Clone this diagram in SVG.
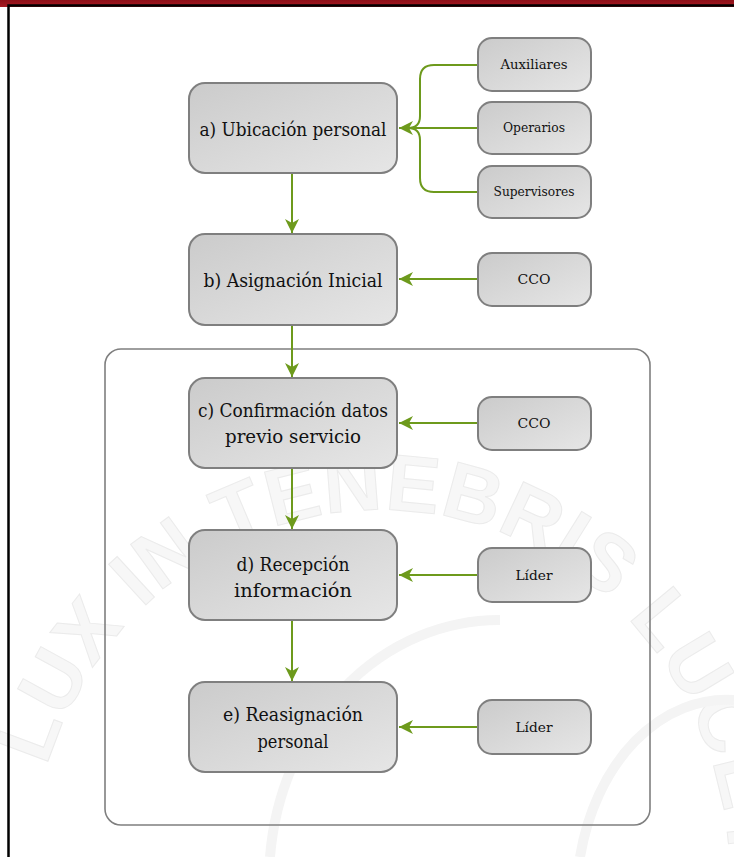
<svg xmlns="http://www.w3.org/2000/svg" width="734" height="857" viewBox="0 0 734 857">
  <defs>
    <linearGradient id="boxFill" x1="0" y1="0" x2="1" y2="1">
      <stop offset="0" stop-color="#cbcbcb"/>
      <stop offset="1" stop-color="#e6e6e6"/>
    </linearGradient>
    <linearGradient id="topBar" x1="0" y1="0" x2="0" y2="1">
      <stop offset="0" stop-color="#8e1018"/>
      <stop offset="1" stop-color="#a61a22"/>
    </linearGradient>
    <marker id="arrow" markerUnits="userSpaceOnUse" markerWidth="16" markerHeight="14" refX="14" refY="7" orient="auto">
      <path d="M0,0 L14,7 L0,14 L4,7 z" fill="#6d9a1c"/>
    </marker>
    <path id="sealArc" d="M 30 880 A 350 370 0 0 1 730 880 A 350 370 0 0 1 30 880"/>
    <style>
      .node rect { fill: url(#boxFill); stroke: #7f7f7f; stroke-width: 2; }
      .main { font-family: "DejaVu Serif", serif; font-size: 19px; fill: #111; text-anchor: middle; }
      .side { font-family: "DejaVu Serif", serif; font-size: 13px; fill: #111; text-anchor: middle; }
      .link { fill: none; stroke: #6d9a1c; stroke-width: 2; }
      .seal { font-family: "Liberation Sans", sans-serif; font-weight: bold; font-size: 80px; fill: #f7f7f7; stroke: #ebebeb; stroke-width: 1; letter-spacing: 1px; }
    </style>
  </defs>

  <rect x="0" y="0" width="734" height="857" fill="#ffffff"/>

  <!-- background seal -->
  <g id="seal">
    <text class="seal"><textPath href="#sealArc" startOffset="115">LUX IN TENEBRIS LUCET</textPath></text>
    <path d="M 270 857 A 230 260 0 0 1 500 620" fill="none" stroke="#f4f4f4" stroke-width="10"/>
    <path d="M 580 857 A 150 200 0 0 1 734 700" fill="none" stroke="#f4f4f4" stroke-width="10"/>
  </g>

  <!-- page frame -->
  <rect x="0" y="0" width="734" height="7" fill="url(#topBar)"/>
  <path d="M8.5,857 V5.5 H734" fill="none" stroke="#000" stroke-width="2.5"/>

  <!-- container -->
  <rect id="group-box" x="105" y="349" width="545" height="476" rx="16" ry="16" fill="none" stroke="#7f7f7f" stroke-width="1.6"/>

  <!-- connectors -->
  <g id="connectors">
    <path class="link" d="M477,65 H434 Q420,65 420,79 V116 Q420,128 408,128 H401"/>
    <path class="link" d="M477,192 H434 Q420,192 420,178 V140 Q420,128 408,128 H401"/>
    <path class="link" d="M477,128 H399" marker-end="url(#arrow)"/>
    <path class="link" d="M292,174 V233" marker-end="url(#arrow)"/>
    <path class="link" d="M477,279 H399" marker-end="url(#arrow)"/>
    <path class="link" d="M292,326 V377" marker-end="url(#arrow)"/>
    <path class="link" d="M477,423 H399" marker-end="url(#arrow)"/>
    <path class="link" d="M292,469 V529" marker-end="url(#arrow)"/>
    <path class="link" d="M477,575 H399" marker-end="url(#arrow)"/>
    <path class="link" d="M292,621 V681" marker-end="url(#arrow)"/>
    <path class="link" d="M477,727 H399" marker-end="url(#arrow)"/>
  </g>

  <!-- main steps -->
  <g id="node-a" class="node">
    <rect x="189" y="83" width="208" height="90" rx="16" ry="16"/>
    <text class="main" x="293" y="136" textLength="187" lengthAdjust="spacingAndGlyphs">a) Ubicación personal</text>
  </g>
  <g id="node-b" class="node">
    <rect x="189" y="234" width="208" height="91" rx="16" ry="16"/>
    <text class="main" x="293" y="287" textLength="179" lengthAdjust="spacingAndGlyphs">b) Asignación Inicial</text>
  </g>
  <g id="node-c" class="node">
    <rect x="189" y="378" width="208" height="90" rx="16" ry="16"/>
    <text class="main" x="293" y="417" textLength="190" lengthAdjust="spacingAndGlyphs">c) Confirmación datos</text>
    <text class="main" x="293" y="443" textLength="136" lengthAdjust="spacingAndGlyphs">previo servicio</text>
  </g>
  <g id="node-d" class="node">
    <rect x="189" y="530" width="208" height="90" rx="16" ry="16"/>
    <text class="main" x="293" y="571" textLength="113" lengthAdjust="spacingAndGlyphs">d) Recepción</text>
    <text class="main" x="293" y="597" textLength="118" lengthAdjust="spacingAndGlyphs">información</text>
  </g>
  <g id="node-e" class="node">
    <rect x="189" y="682" width="208" height="90" rx="16" ry="16"/>
    <text class="main" x="293" y="721" textLength="140" lengthAdjust="spacingAndGlyphs">e) Reasignación</text>
    <text class="main" x="293" y="748" textLength="71" lengthAdjust="spacingAndGlyphs">personal</text>
  </g>

  <!-- actors -->
  <g id="auxiliares" class="node">
    <rect x="478" y="38" width="113" height="53" rx="14" ry="14"/>
    <text class="side" x="534" y="69" textLength="67" lengthAdjust="spacingAndGlyphs">Auxiliares</text>
  </g>
  <g id="operarios" class="node">
    <rect x="478" y="102" width="113" height="52" rx="14" ry="14"/>
    <text class="side" x="534" y="132" textLength="62" lengthAdjust="spacingAndGlyphs">Operarios</text>
  </g>
  <g id="supervisores" class="node">
    <rect x="478" y="166" width="113" height="52" rx="14" ry="14"/>
    <text class="side" x="534" y="196" textLength="81" lengthAdjust="spacingAndGlyphs">Supervisores</text>
  </g>
  <g id="cco-1" class="node">
    <rect x="478" y="253" width="113" height="53" rx="14" ry="14"/>
    <text class="side" x="534" y="284" textLength="33" lengthAdjust="spacingAndGlyphs">CCO</text>
  </g>
  <g id="cco-2" class="node">
    <rect x="478" y="397" width="113" height="53" rx="14" ry="14"/>
    <text class="side" x="534" y="428" textLength="33" lengthAdjust="spacingAndGlyphs">CCO</text>
  </g>
  <g id="lider-1" class="node">
    <rect x="478" y="548" width="113" height="54" rx="14" ry="14"/>
    <text class="side" x="534" y="580" textLength="37" lengthAdjust="spacingAndGlyphs">Líder</text>
  </g>
  <g id="lider-2" class="node">
    <rect x="478" y="700" width="113" height="54" rx="14" ry="14"/>
    <text class="side" x="534" y="732" textLength="37" lengthAdjust="spacingAndGlyphs">Líder</text>
  </g>
</svg>
